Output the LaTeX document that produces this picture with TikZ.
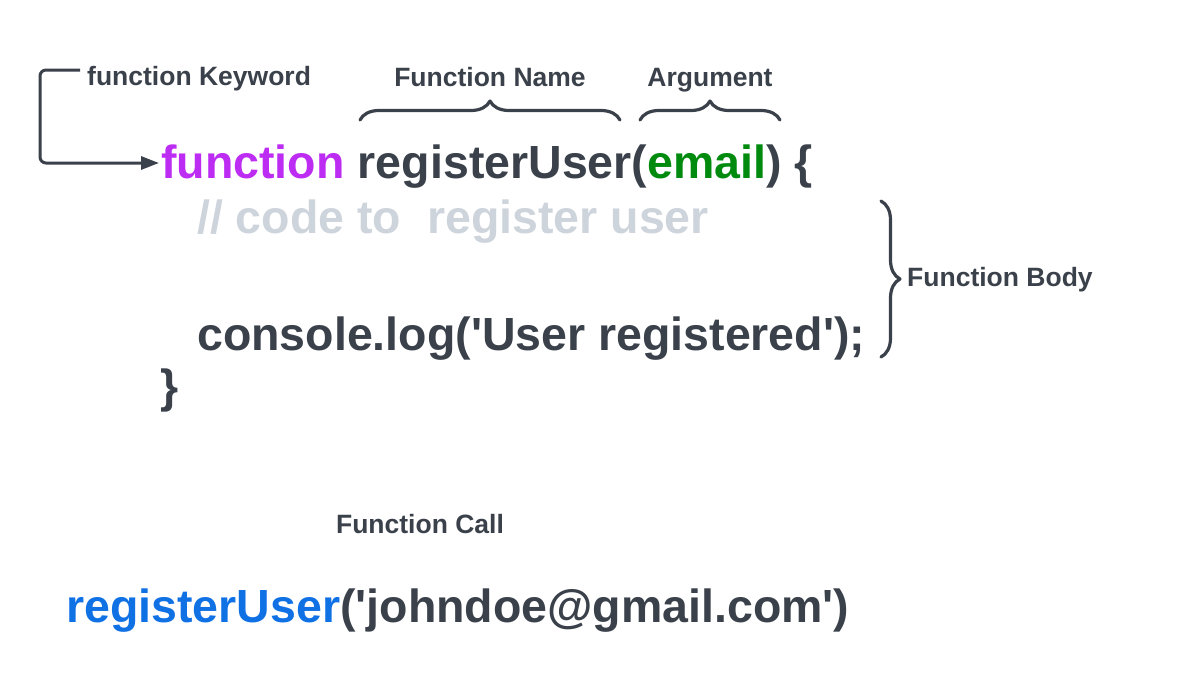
\documentclass[tikz,border=0pt]{standalone}
\usepackage{fontspec}
\setmainfont{Liberation Sans}[Ligatures=TeXOff]
\usetikzlibrary{decorations.pathreplacing,arrows.meta}
\definecolor{ink}{HTML}{3A414A}
\definecolor{kwpurple}{HTML}{BD2CF3}
\definecolor{arggreen}{HTML}{008A0E}
\definecolor{callblue}{HTML}{1071E5}
\definecolor{cmtgray}{HTML}{CED4DB}
\tikzset{
  code/.style={inner sep=0pt, anchor=base west, text=ink, font=\bfseries\fontsize{46.5pt}{50pt}\selectfont},
  lbl/.style={inner sep=0pt, anchor=base, text=ink, font=\bfseries\fontsize{26.5pt}{30pt}\selectfont},
  conn/.style={draw=ink, line width=3pt, rounded corners=6pt, -{Triangle[length=18pt,width=13pt]}},
  bracestyle/.style={draw=ink, line width=3.2pt, line cap=round, line join=round, decorate, decoration={brace, amplitude=19pt, aspect=0.5}},
}
\begin{document}
\begin{tikzpicture}[x=1pt,y=-1pt]
\useasboundingbox (0,0) rectangle (1203,686);
% labels
\node[lbl, anchor=base west] (klabel) at (87,85) {function Keyword};
\node[lbl] (nlabel) at (490,86) {Function Name};
\node[lbl] (alabel) at (710,86) {Argument};
\node[lbl, anchor=base west] (blabel) at (907,286) {Function Body};
\node[lbl] (clabel) at (420,533) {Function Call};
% code
\node[code] (fkw) at (161,178) {\textcolor{kwpurple}{function}};
\node[code] (sig) at (fkw.base east) {\ registerUser(\textcolor{arggreen}{email}) \{};
\node[code, text=cmtgray] (cmt) at (197,233) {// code to\ \ register user};
\node[code] (log) at (197,350) {console.log('User registered');};
\node[code] (close) at (160,402) {\}};
\node[code] (call) at (66,622) {\textcolor{callblue}{registerUser}('johndoe@gmail.com')};
% arrow
\coordinate (ks) at (80,70);
\coordinate (kt) at ([xshift=-2pt]fkw.base west);
\draw[conn] (ks) -- (40,70) -- (40,163) -- (kt |- 0,163);
% braces
\draw[bracestyle] (360,120) -- (620,120);
\draw[bracestyle] (640,120) -- (780,120);
\draw[bracestyle] (881,201) -- (881,357);
\end{tikzpicture}
\end{document}
